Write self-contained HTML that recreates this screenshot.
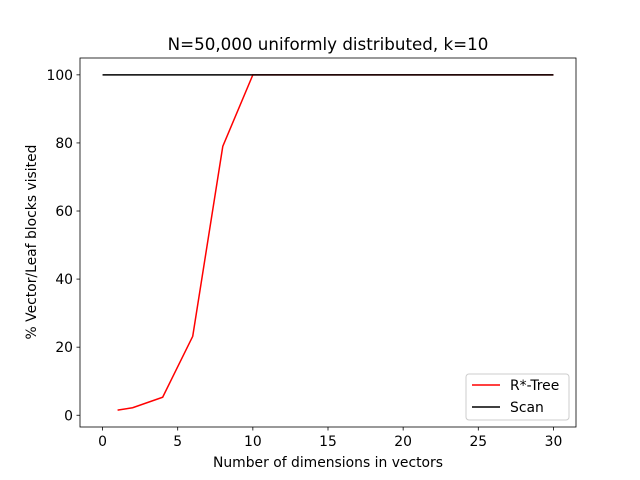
<!DOCTYPE html>
<html><head><meta charset="utf-8"><style>
body{margin:0;background:#fff;}
svg{display:block;font-family:"DejaVu Sans","Liberation Sans",sans-serif;}
</style></head><body>
<svg id="chart" width="640" height="480">
<rect width="640" height="480" fill="#fff"/>
<text x="328" y="50" font-size="16.7" text-anchor="middle">N=50,000 uniformly distributed, k=10</text>
<text x="328" y="467" font-size="13.9" text-anchor="middle">Number of dimensions in vectors</text>
<text x="0" y="0" font-size="13.9" text-anchor="middle" transform="translate(36,242) rotate(-90)">% Vector/Leaf blocks visited</text>
<g id="ticks"></g>
<g id="lines"></g>
<rect x="80" y="58" width="496" height="369" fill="none" stroke="#000" stroke-width="0.8"/>
<g>
<rect x="466" y="374" width="103" height="46" rx="3" fill="#fff" stroke="#ccc" stroke-width="1"/>
<line x1="472" y1="385" x2="500" y2="385" stroke="red" stroke-width="1.5"/>
<text x="510" y="390" font-size="13.9">R*-Tree</text>
<line x1="472" y1="407" x2="500" y2="407" stroke="#000" stroke-width="1.5"/>
<text x="510" y="412" font-size="13.9">Scan</text>
</g>
</svg>
<script>
const rtreeX=[1,2,4,6,8,10,12,14,16,18,20,22,24,26,28,30];
const rtreeY=[1.5,2.2,5.3,23.2,79,100,100,100,100,100,100,100,100,100,100,100];
const scanX=[0,30];
const scanY=[100,100];
const xTicks=[0,5,10,15,20,25,30];
const yTicks=[0,20,40,60,80,100];
const L=80,R=576,T=58,B=427,xmin=-1.5,xmax=31.5,ymin=-3.45,ymax=104.95;
const sx=v=>L+(v-xmin)/(xmax-xmin)*(R-L);
const sy=v=>B-(v-ymin)/(ymax-ymin)*(B-T);
const NS="http://www.w3.org/2000/svg";
const tg=document.getElementById('ticks'),lg=document.getElementById('lines');
function mk(t,a,p){const e=document.createElementNS(NS,t);for(const k in a)e.setAttribute(k,a[k]);p.appendChild(e);return e;}
xTicks.forEach(v=>{const x=sx(v);
const l=mk('line',{x1:x,x2:x,y1:B,y2:B+3.5,stroke:'#000','stroke-width':0.8},tg);


const t=mk('text',{x:x,y:B+19,'font-size':13.9,'text-anchor':'middle'},tg);t.textContent=v;

});
yTicks.forEach(v=>{const y=sy(v);
const l=mk('line',{x1:L-3.5,x2:L,y1:y,y2:y,stroke:'#000','stroke-width':0.8},tg);


const t=mk('text',{x:L-7,y:y+5,'font-size':13.9,'text-anchor':'end'},tg);t.textContent=v;

});
function line(xs,ys,c,n){const p=mk('polyline',{points:xs.map((x,i)=>sx(x)+','+sy(ys[i])).join(' '),fill:'none',stroke:c,'stroke-width':1.5},lg);

}
line(rtreeX,rtreeY,'red','rtree-line');
line(scanX,scanY,'#000','scan-line');
</script>
</body></html>
